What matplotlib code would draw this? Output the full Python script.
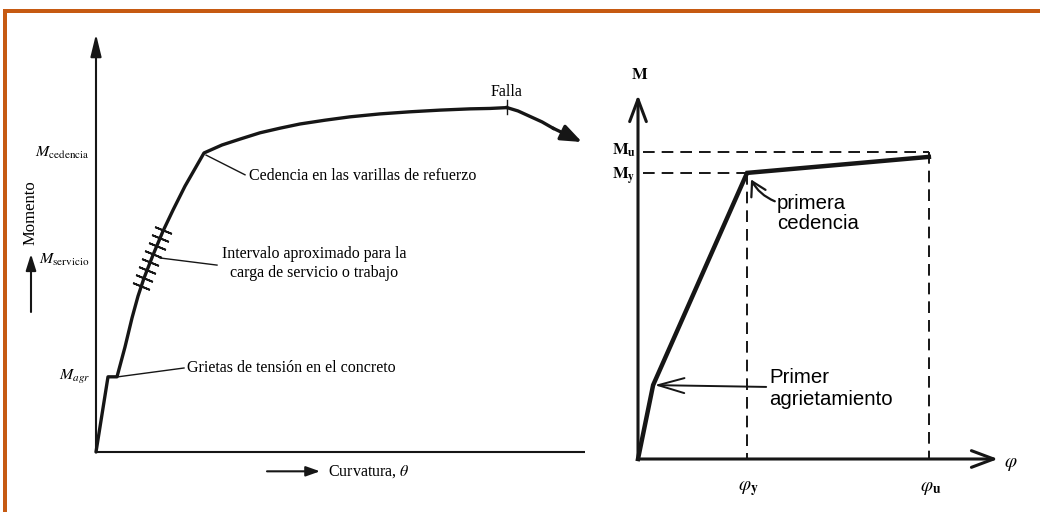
import matplotlib
matplotlib.use("Agg")
import matplotlib.pyplot as plt
from matplotlib.patches import Rectangle, FancyArrowPatch

plt.rcParams['mathtext.fontset'] = 'stix'
plt.rcParams['font.family'] = ['Liberation Serif', 'DejaVu Serif']

INK = '#161616'
BORDER = '#C65A12'

# ---------------- Left diagram: moment-curvature of a RC beam ----------------
curv = [0.0, 2.4, 4.2, 5.8, 7.2, 8.4, 9.6, 11.4, 13.4, 15.4, 17.8, 21.6,
        25.2, 28.8, 32.8, 36.8, 40.8, 45.8, 50.8, 56.8, 62.8, 68.8, 74.8, 78.8, 82.2]
mom = [0.0, 17.9, 17.9, 25.0, 31.9, 37.1, 41.4, 46.9, 52.6, 57.6, 63.3, 71.2,
       73.1, 74.5, 76.0, 77.1, 78.1, 79.0, 79.8, 80.5, 81.0, 81.4, 81.7, 81.8, 82.0]

# descending branch after failure
curv_tail = [82.2, 84.4, 86.8, 89.2, 91.4, 97.2]
mom_tail = [82.0, 81.2, 79.9, 78.6, 77.1, 73.8]

# service-load interval marks on the curve
curv_serv = [13.48, 12.82, 12.16, 11.48, 10.84, 10.2, 9.6, 9.06]
mom_serv = [52.9, 51.0, 49.0, 47.1, 45.2, 43.3, 41.4, 39.5]

M_agr = 17.9
M_servicio = 45.7
M_cedencia = 71.2
curv_falla = 82.2
mom_falla = 82.0

# ---------------- Right diagram: idealised trilinear model ----------------
phi = [0.0, 4.2, 30.3, 80.8]
mr = [0.0, 20.3, 78.6, 83.0]
phi_y = 30.3
phi_u = 80.8
M_y = 78.6
M_u = 84.3

W, H = 1040, 512
fig = plt.figure(figsize=(W / 100, H / 100), dpi=100)
fig.patch.set_facecolor('white')


def fpx(x, y):
    return x / W, 1 - y / H


# frame strips
fig.add_artist(Rectangle(fpx(3, 13), (W - 3) / W, 4 / H, transform=fig.transFigure,
                         facecolor=BORDER, edgecolor='none'))
fig.add_artist(Rectangle(fpx(3, H), 4 / W, (H - 9) / H, transform=fig.transFigure,
                         facecolor=BORDER, edgecolor='none'))

# ---- left axes ----
ax1 = fig.add_axes([96 / W, (H - 452) / H, 500 / W, 420 / H])
ax1.set_xlim(0, 100)
ax1.set_ylim(0, 100)
ax1.axis('off')

ax1.annotate('', xy=(0, 99.5), xytext=(0, 0), annotation_clip=False,
             arrowprops=dict(arrowstyle='-|>,head_length=0.9,head_width=0.22',
                             lw=1.5, color=INK, shrinkA=0, shrinkB=0, mutation_scale=15))
ax1.plot([0, 97.8], [0, 0], color=INK, lw=1.5, solid_capstyle='butt', clip_on=False)

ax1.plot(curv, mom, color=INK, lw=2.4, solid_joinstyle='round', solid_capstyle='round',
         clip_on=False)
ax1.plot(curv_tail[:-1], mom_tail[:-1], color=INK, lw=2.4, solid_joinstyle='round',
         clip_on=False)
ax1.annotate('', xy=(curv_tail[-1], mom_tail[-1]), xytext=(curv_tail[-2], mom_tail[-2]),
             annotation_clip=False,
             arrowprops=dict(arrowstyle='-|>,head_length=0.9,head_width=0.35',
                             lw=2.4, color=INK, shrinkA=0, shrinkB=0, mutation_scale=14))
ax1.plot(curv_serv, mom_serv, ls='none', marker=(2, 2, 68), markersize=13,
         markeredgewidth=1.3, color=INK, clip_on=False)
ax1.plot([curv_falla, curv_falla], [mom_falla - 1.6, mom_falla + 1.9], color=INK, lw=1.0)

fs_l = 11.5
fs_m = 11.5
ax1.text(-1.2, M_cedencia, r'$M_{\mathrm{cedencia}}$', ha='right', va='center', fontsize=fs_m)
ax1.text(-1.2, M_servicio, r'$M_{\mathrm{servicio}}$', ha='right', va='center', fontsize=fs_m)
ax1.text(-1.2, M_agr, r'$M_{agr}$', ha='right', va='center', fontsize=fs_m)

# leaders and notes
ax1.plot([22.0, 29.8], [70.7, 66.0], color=INK, lw=1.0)
ax1.text(30.6, 65.6, 'Cedencia en las varillas de refuerzo', ha='left', va='center', fontsize=fs_l)
ax1.plot([12.8, 24.2], [46.2, 44.5], color=INK, lw=1.0)
ax1.text(43.6, 44.8, 'Intervalo aproximado para la\ncarga de servicio o trabajo',
         ha='center', va='center', fontsize=fs_l, linespacing=1.25)
ax1.plot([4.4, 17.6], [17.9, 20.0], color=INK, lw=1.0)
ax1.text(18.2, 19.9, 'Grietas de tensión en el concreto', ha='left', va='center', fontsize=fs_l)
ax1.text(curv_falla, 85.6, 'Falla', ha='center', va='center', fontsize=fs_l)

ax1.annotate('', xy=(44.8, -4.6), xytext=(34.2, -4.6), annotation_clip=False,
             arrowprops=dict(arrowstyle='-|>,head_length=0.7,head_width=0.25',
                             lw=1.5, color=INK, shrinkA=0, shrinkB=0, mutation_scale=12))
ax1.text(46.4, -4.6, r'Curvatura, $\theta$', ha='left', va='center', fontsize=fs_l)

fig.text(*fpx(31, 213), 'Momento', rotation=90, ha='center', va='center', fontsize=12)
fig.add_artist(FancyArrowPatch(
    fpx(31, 312), fpx(31, 254), transform=fig.transFigure,
    arrowstyle='-|>,head_length=0.7,head_width=0.22', mutation_scale=14,
    lw=1.5, color=INK, shrinkA=0, shrinkB=0))

# ---- right axes ----
ax2 = fig.add_axes([638 / W, (H - 459) / H, 360 / W, 364 / H])
ax2.set_xlim(0, 100)
ax2.set_ylim(0, 100)
ax2.axis('off')

ax_arrow = dict(arrowstyle='->,head_length=0.8,head_width=0.3', lw=2.2, color=INK,
                shrinkA=0, shrinkB=0, mutation_scale=20)
ax2.annotate('', xy=(0, 100), xytext=(0, 0), annotation_clip=False, arrowprops=ax_arrow)
ax2.annotate('', xy=(100, 0), xytext=(0, 0), annotation_clip=False, arrowprops=ax_arrow)

dash = (0, (6, 3.6))
ax2.plot([1.3, phi_u], [M_u, M_u], color=INK, lw=1.4, ls=dash)
ax2.plot([phi_u, phi_u], [M_u, 0], color=INK, lw=1.4, ls=dash)
ax2.plot([1.3, phi_y], [M_y, M_y], color=INK, lw=1.4, ls=dash)
ax2.plot([phi_y, phi_y], [M_y, 0], color=INK, lw=1.4, ls=dash)

ax2.plot(phi, mr, color=INK, lw=3.2, solid_joinstyle='miter', clip_on=False)

fs_r = 14.7
sans = ['Liberation Sans', 'DejaVu Sans']
ax2.text(38.6, 67.4, 'primera\ncedencia', family=sans, fontsize=fs_r, ha='left', va='center',
         linespacing=1.1)
ax2.annotate('', xy=(31.4, 76.8), xytext=(38.0, 70.8), annotation_clip=False,
             arrowprops=dict(arrowstyle='->,head_length=0.55,head_width=0.32', lw=1.6,
                             color=INK, shrinkA=0, shrinkB=0, mutation_scale=18,
                             connectionstyle='arc3,rad=-0.18'))
ax2.text(36.4, 19.4, 'Primer\nagrietamiento', family=sans, fontsize=fs_r, ha='left',
         va='center', linespacing=1.15)
ax2.annotate('', xy=(4.6, 20.3), xytext=(35.6, 19.8), annotation_clip=False,
             arrowprops=dict(arrowstyle='->,head_length=1.05,head_width=0.3', lw=1.4,
                             color=INK, shrinkA=0, shrinkB=0, mutation_scale=18))

ax2.text(0.5, 105.5, r'$\mathbf{M}$', ha='center', va='center', fontsize=12)
ax2.text(-0.6, M_u + 0.6, r'$\mathbf{M}_{\mathbf{u}}$', ha='right', va='center', fontsize=12)
ax2.text(-0.6, M_y - 1.0, r'$\mathbf{M}_{\mathbf{y}}$', ha='right', va='center', fontsize=12)
ax2.text(103.6, -1.4, r'$\varphi$', ha='center', va='center', fontsize=14)
ax2.text(phi_y + 0.4, -8.2, r'$\varphi_{\mathbf{y}}$', ha='center', va='center', fontsize=14)
ax2.text(phi_u + 0.4, -8.2, r'$\varphi_{\mathbf{u}}$', ha='center', va='center', fontsize=14)

fig.savefig('out.png', dpi=100, facecolor='white')
